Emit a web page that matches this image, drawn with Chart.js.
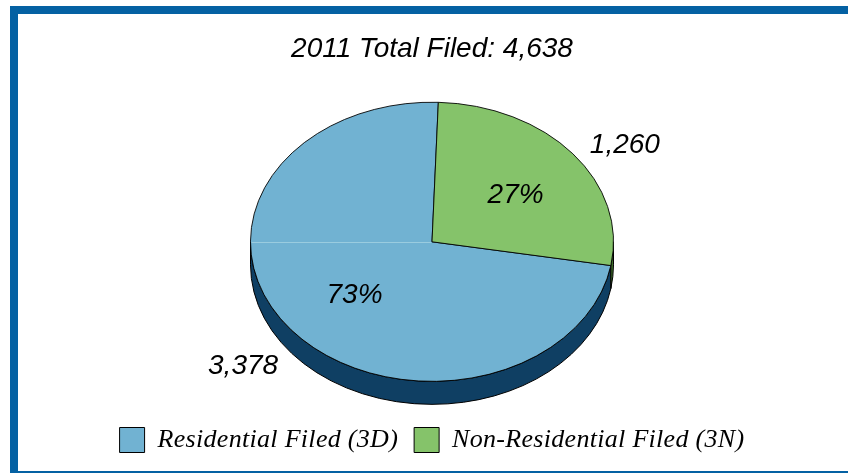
<!DOCTYPE html>
<html>
<head>
<meta charset="utf-8">
<script src="https://cdn.jsdelivr.net/npm/chart.js@4/dist/chart.umd.min.js"></script>
<style>
html,body{margin:0;padding:0;background:#fff;width:848px;height:473px;overflow:hidden}
#frame{position:absolute;left:10px;top:6px;right:0;bottom:0;border-left:8px solid #0461a3;border-top:8px solid #0461a3;border-bottom:2px solid #0461a3;box-sizing:border-box}
canvas{position:absolute;left:0;top:0}
</style>
</head>
<body>
<div id="frame"></div>
<canvas id="c" width="848" height="473"></canvas>
<script>
const titleText = '2011 Total Filed: 4,638';
const categories = ['Residential Filed (3D)', 'Non-Residential Filed (3N)'];
const values = [3378, 1260];
const total = 4638;
const sliceColors = ['#71b2d2', '#85c36a'];
const wallColors = ['#0f3f63', '#3d6b2a'];
const valueLabelReach = [1.371, 1.268];
const valueLabelTurn = [-1.5, 6.05];
const percentLabelReach = [0.571, 0.570];
const percentLabelTurn = [-2.5, 3];

const squash = 0.769, depth = 23;

const pie3d = {
  id: 'pie3d',
  afterInit(chart) {
    const lg = chart.legend, fit = lg.fit, draw = lg.draw;
    const spaced = fn => function () {
      const ctx = chart.ctx; const prev = ctx.letterSpacing;
      ctx.letterSpacing = '0.3px';
      const r = fn.apply(this, arguments);
      ctx.letterSpacing = prev;
      return r;
    };
    lg.fit = spaced(fit); lg.draw = spaced(draw);
  },
  beforeDatasetsDraw(chart) {
    const ctx = chart.ctx, arcs = chart.getDatasetMeta(0).data;
    ctx.save();
    ctx.lineWidth = 1; ctx.strokeStyle = '#000';
    arcs.forEach((a, i) => {
      let s = a.startAngle, e = a.endAngle;
      const cands = [[s, e], [s - 2 * Math.PI, e - 2 * Math.PI]];
      cands.forEach(([p, q]) => {
        const a1 = Math.max(p, 0), a2 = Math.min(q, Math.PI);
        if (a2 <= a1) return;
        const rx = a.outerRadius, ry = rx * squash;
        ctx.beginPath();
        ctx.ellipse(a.x, a.y, rx, ry, 0, a1, a2);
        ctx.ellipse(a.x, a.y + depth, rx, ry, 0, a2, a1, true);
        ctx.closePath();
        ctx.fillStyle = wallColors[i];
        ctx.fill(); ctx.stroke();
      });
    });
    ctx.restore();
    const c = arcs[0];
    ctx.save();
    ctx.translate(c.x, c.y); ctx.scale(1, squash); ctx.translate(-c.x, -c.y);
  },
  afterDatasetsDraw(chart) {
    const ctx = chart.ctx, arcs = chart.getDatasetMeta(0).data;
    ctx.restore();
    const c = arcs[0];
    ctx.save();
    ctx.strokeStyle = '#9accdf'; ctx.lineWidth = 1;
    ctx.beginPath();
    ctx.moveTo(c.x - c.outerRadius + 1, Math.round(c.y) + 0.5);
    ctx.lineTo(c.x - 1, Math.round(c.y) + 0.5);
    ctx.stroke();
    ctx.fillStyle = '#000';
    ctx.font = 'italic 28px "Liberation Sans"';
    ctx.textAlign = 'center'; ctx.textBaseline = 'middle';
    arcs.forEach((a, i) => {
      const mid = (a.startAngle + a.endAngle) / 2;
      const at = (f, turn) => {
        const t = mid + turn * Math.PI / 180;
        return [a.x + Math.cos(t) * a.outerRadius * f,
                a.y + Math.sin(t) * a.outerRadius * f * squash];
      };
      const pct = Math.round(values[i] / total * 100) + '%';
      const [px, py] = at(percentLabelReach[i], percentLabelTurn[i]);
      ctx.fillText(pct, px, py);
      const [vx, vy] = at(valueLabelReach[i], valueLabelTurn[i]);
      ctx.fillText(values[i].toLocaleString('en-US'), vx, vy);
    });
    ctx.restore();
  }
};

new Chart(document.getElementById('c'), {
  type: 'pie',
  data: {
    labels: categories,
    datasets: [{
      data: values,
      backgroundColor: sliceColors,
      borderColor: '#000',
      borderWidth: 1,
      clip: false
    }]
  },
  plugins: [pie3d],
  options: {
    responsive: false,
    animation: false,
    rotation: 99.8,
    radius: 181.5,
    layout: { padding: { left: 16, right: 0, top: 32, bottom: 10 } },
    plugins: {
      tooltip: { enabled: false },
      title: {
        display: true,
        text: titleText,
        color: '#000',
        font: { family: '"Liberation Sans"', size: 28, style: 'italic', weight: 'normal' },
        padding: { top: 0, bottom: 7 }
      },
      legend: {
        position: 'bottom',
        labels: {
          color: '#000',
          boxWidth: 25,
          boxHeight: 25,
          padding: 16,
          font: { family: '"Liberation Serif"', size: 26, style: 'italic', weight: 'normal' }
        }
      }
    }
  }
});
</script>
</body>
</html>
